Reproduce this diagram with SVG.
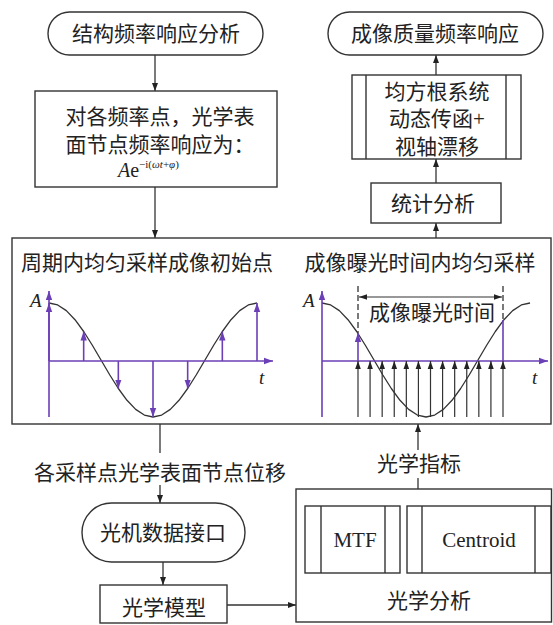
<svg xmlns="http://www.w3.org/2000/svg" width="553" height="625" viewBox="0 0 553 625">
<style>
.box{fill:none;stroke:#333;stroke-width:1.4}
.ln{fill:none;stroke:#333;stroke-width:1.3}
.cn{font-family:"Noto Sans CJK SC","Noto Sans",sans-serif;font-size:21px;fill:#222;text-anchor:middle}
.rm{font-family:"Liberation Serif",serif;fill:#222}
.pu{fill:none;stroke:#6b3fb6;stroke-width:1.6}
.cv{fill:none;stroke:#333;stroke-width:1.3;stroke-linejoin:round}
.dash{fill:none;stroke:#333;stroke-width:1.3;stroke-dasharray:6 3}
.bk{fill:none;stroke:#333;stroke-width:1.2}
</style>
<defs>
<marker id="ah" markerUnits="userSpaceOnUse" markerWidth="8" markerHeight="8" viewBox="0 0 8 8" refX="8" refY="4" orient="auto"><path d="M0,1 L8,4 L0,7 Z" fill="#222"/></marker>
<marker id="ap" markerUnits="userSpaceOnUse" markerWidth="9" markerHeight="8" viewBox="0 0 9 8" refX="9" refY="4" orient="auto"><path d="M0,0.8 L9,4 L0,7.2 Z" fill="#6b3fb6"/></marker>
<marker id="ab" markerUnits="userSpaceOnUse" markerWidth="8" markerHeight="8" viewBox="0 0 8 8" refX="8" refY="4" orient="auto"><path d="M0,1.2 L8,4 L0,6.8 Z" fill="#222"/></marker>
<marker id="abs" markerUnits="userSpaceOnUse" markerWidth="8" markerHeight="8" viewBox="0 0 8 8" refX="0" refY="4" orient="auto"><path d="M8,1.2 L0,4 L8,6.8 Z" fill="#222"/></marker>
</defs>
<rect width="553" height="625" fill="#fff"/>

<g id="connectors">
<line class="ln" x1="155" y1="55" x2="155" y2="91" marker-end="url(#ah)"/>
<line class="ln" x1="155" y1="187" x2="155" y2="238" marker-end="url(#ah)"/>
<line class="ln" x1="436" y1="238" x2="436" y2="223" marker-end="url(#ah)"/>
<line class="ln" x1="436" y1="183" x2="436" y2="159" marker-end="url(#ah)"/>
<line class="ln" x1="436" y1="75" x2="436" y2="55" marker-end="url(#ah)"/>
<line class="ln" x1="160" y1="424" x2="160" y2="453"/>
<line class="ln" x1="160" y1="485" x2="160" y2="503" marker-end="url(#ah)"/>
<line class="ln" x1="163" y1="562" x2="163" y2="585" marker-end="url(#ah)"/>
<line class="ln" x1="227" y1="605" x2="296" y2="605" marker-end="url(#ah)"/>
<line class="ln" x1="418" y1="489" x2="418" y2="478"/>
<line class="ln" x1="418" y1="450" x2="418" y2="424" marker-end="url(#ah)"/>
</g>

<g id="n1">
<rect class="box" x="48" y="12" width="215" height="43" rx="21.5"/>
<text class="cn" x="156" y="41">结构频率响应分析</text>
</g>
<g id="n2">
<rect class="box" x="35" y="91" width="242" height="96"/>
<text class="cn" x="160" y="124">对各频率点，光学表<tspan x="160" dy="28">面节点频率响应为：</tspan></text>
<text class="rm" x="118" y="177" font-size="20"><tspan font-style="italic">A</tspan>e<tspan font-size="11" dy="-9">−i(<tspan font-style="italic">ωt</tspan>+<tspan font-style="italic">φ</tspan>)</tspan></text>
</g>
<g id="n3">
<rect class="box" x="328" y="12" width="215" height="43" rx="21.5"/>
<text class="cn" x="435" y="41">成像质量频率响应</text>
</g>
<g id="n4">
<rect class="box" x="352" y="75" width="169" height="84"/>
<line class="box" x1="366" y1="75" x2="366" y2="159"/>
<line class="box" x1="506" y1="75" x2="506" y2="159"/>
<text class="cn" x="437" y="98.5" font-size="18">均方根系统</text>
<text class="cn" x="437" y="126" font-size="18">动态传函<tspan font-family="Liberation Serif, serif">+</tspan></text>
<text class="cn" x="437" y="153.5" font-size="18">视轴漂移</text>
</g>
<g id="n5">
<rect class="box" x="371" y="183" width="130" height="40"/>
<text class="cn" x="433" y="211">统计分析</text>
</g>

<g id="n6">
<rect class="box" x="12" y="238" width="539" height="186"/>
<text class="cn" x="147" y="270">周期内均匀采样成像初始点</text>
<text class="cn" x="420" y="270">成像曝光时间内均匀采样</text>
<polyline class="cv" points="49,303 57.67,304.94 66.33,310.64 75,319.7 83.67,331.5 92.33,345.25 101,360 109.67,374.75 118.33,388.5 127,400.3 135.67,409.36 144.33,415.06 153,417 161.67,415.06 170.33,409.36 179,400.3 187.67,388.5 196.33,374.75 205,360 213.67,345.25 222.33,331.5 231,319.7 239.67,310.64 248.33,304.94 257,303"/>
<line class="pu" x1="49" y1="417" x2="49" y2="291" marker-end="url(#ap)"/>
<line class="pu" x1="49" y1="361" x2="273" y2="361" marker-end="url(#ap)"/>
<line class="pu" x1="49" y1="361" x2="49" y2="303" marker-end="url(#ap)"/>
<line class="pu" x1="83.67" y1="361" x2="83.67" y2="331.5" marker-end="url(#ap)"/>
<line class="pu" x1="118.33" y1="361" x2="118.33" y2="388.5" marker-end="url(#ap)"/>
<line class="pu" x1="153" y1="361" x2="153" y2="417" marker-end="url(#ap)"/>
<line class="pu" x1="187.67" y1="361" x2="187.67" y2="388.5" marker-end="url(#ap)"/>
<line class="pu" x1="222.33" y1="361" x2="222.33" y2="331.5" marker-end="url(#ap)"/>
<line class="pu" x1="257" y1="361" x2="257" y2="303" marker-end="url(#ap)"/>
<text class="rm" x="30" y="307" font-size="19" font-style="italic">A</text>
<text class="rm" x="259" y="384" font-size="19" font-style="italic">t</text>
<polyline class="cv" points="322,303 330.67,304.94 339.33,310.64 348,319.7 356.67,331.5 365.33,345.25 374,360 382.67,374.75 391.33,388.5 400,400.3 408.67,409.36 417.33,415.06 426,417 434.67,415.06 443.33,409.36 452,400.3 460.67,388.5 469.33,374.75 478,360 486.67,345.25 495.33,331.5 504,319.7 512.67,310.64 521.33,304.94 530,303"/>
<line class="pu" x1="322" y1="417" x2="322" y2="291" marker-end="url(#ap)"/>
<line class="pu" x1="322" y1="361" x2="548" y2="361" marker-end="url(#ap)"/>
<line class="dash" x1="358" y1="286" x2="358" y2="333"/>
<line class="dash" x1="503" y1="286" x2="503" y2="320"/>
<line class="pu" x1="358" y1="361" x2="358" y2="333" marker-end="url(#ap)"/>
<line class="pu" x1="503" y1="361" x2="503" y2="320"/>
<line class="bk" x1="359" y1="297" x2="502" y2="297" marker-start="url(#abs)" marker-end="url(#ab)"/>
<text class="cn" x="432" y="320">成像曝光时间</text>
<g class="bk" marker-end="url(#ab)">
<line x1="358" y1="417" x2="358" y2="361"/>
<line x1="370.08" y1="417" x2="370.08" y2="361"/>
<line x1="382.17" y1="417" x2="382.17" y2="361"/>
<line x1="394.25" y1="417" x2="394.25" y2="361"/>
<line x1="406.33" y1="417" x2="406.33" y2="361"/>
<line x1="418.42" y1="417" x2="418.42" y2="361"/>
<line x1="430.5" y1="417" x2="430.5" y2="361"/>
<line x1="442.58" y1="417" x2="442.58" y2="361"/>
<line x1="454.67" y1="417" x2="454.67" y2="361"/>
<line x1="466.75" y1="417" x2="466.75" y2="361"/>
<line x1="478.83" y1="417" x2="478.83" y2="361"/>
<line x1="490.92" y1="417" x2="490.92" y2="361"/>
<line x1="503" y1="417" x2="503" y2="361"/>
</g>
<text class="rm" x="303" y="307" font-size="19" font-style="italic">A</text>
<text class="rm" x="532" y="384" font-size="19" font-style="italic">t</text>
</g>

<g id="l1">
<text class="cn" x="160" y="480">各采样点光学表面节点位移</text>
</g>
<g id="n7">
<rect class="box" x="82" y="503" width="163" height="59" rx="29.5"/>
<text class="cn" x="163" y="540">光机数据接口</text>
</g>
<g id="n8">
<rect class="box" x="100" y="585" width="127" height="38"/>
<text class="cn" x="164" y="615">光学模型</text>
</g>
<g id="l2">
<text class="cn" x="419" y="471">光学指标</text>
</g>
<g id="n9">
<rect class="box" x="296" y="489" width="255.5" height="133"/>
<text class="cn" x="429" y="608">光学分析</text>
</g>
<g id="n10">
<rect class="box" x="305" y="506" width="95" height="67"/>
<line class="box" x1="321" y1="506" x2="321" y2="573"/>
<line class="box" x1="385" y1="506" x2="385" y2="573"/>
<text class="rm" x="355" y="547" font-size="21" text-anchor="middle">MTF</text>
</g>
<g id="n11">
<rect class="box" x="407" y="506" width="144" height="67"/>
<line class="box" x1="422" y1="506" x2="422" y2="573"/>
<line class="box" x1="535" y1="506" x2="535" y2="573"/>
<text class="rm" x="479" y="547" font-size="21" text-anchor="middle">Centroid</text>
</g>
</svg>
